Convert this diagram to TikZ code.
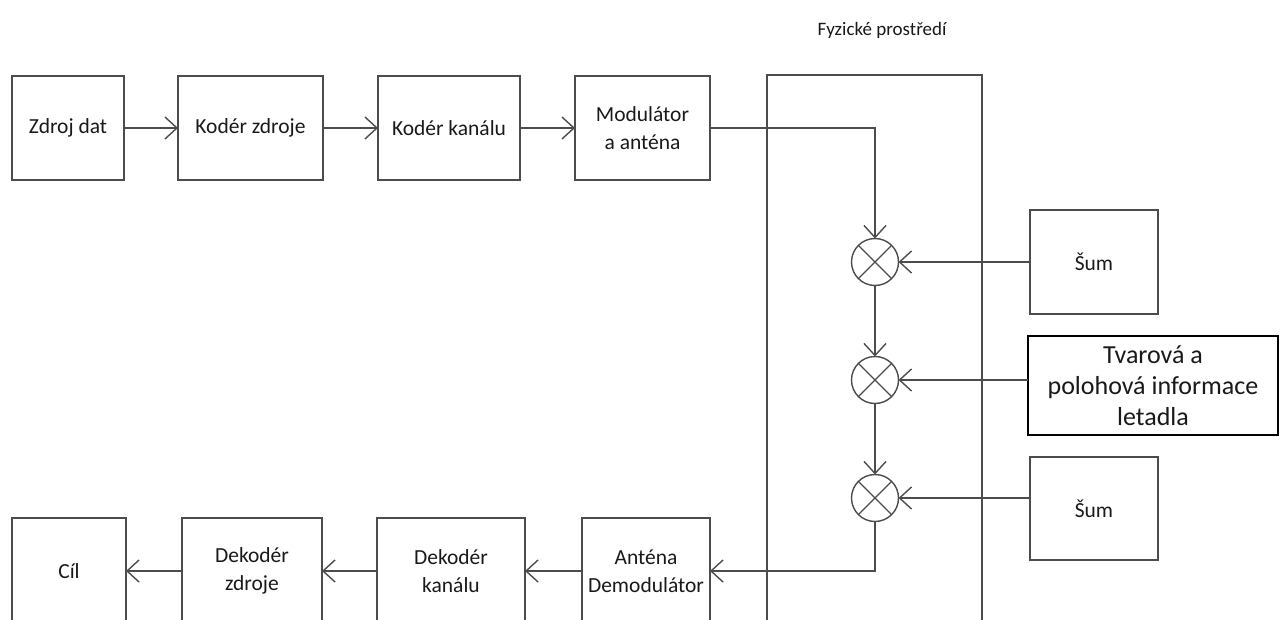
\documentclass[tikz,border=0pt]{standalone}
\usepackage{fontspec}
\setmainfont{Carlito}
\usetikzlibrary{arrows.meta}
\tikzset{
  blok/.style={draw=black!70, line width=1.4pt, minimum height=104pt, inner sep=0pt, outer sep=0pt,
    align=center, text=black!90, font=\fontsize{21.5}{28}\selectfont},
  soucin/.style={circle, draw=black!70, line width=1.4pt, minimum size=47pt, inner sep=0pt, outer sep=0pt,
    path picture={\draw[black!70, line width=1.2pt]
      (path picture bounding box.north west) -- (path picture bounding box.south east)
      (path picture bounding box.north east) -- (path picture bounding box.south west);}},
  sipka/.style={draw=black!70, line width=1.4pt, -{Straight Barb[length=12pt,width=22pt,line width=1.4pt]}},
}
\newcommand{\blokfont}{\fontsize{26}{31}\selectfont}

\begin{document}
\begin{tikzpicture}[x=1pt, y=-1pt]
  \useasboundingbox (0,0) rectangle (1282,620);
  \clip (0,0) rectangle (1282,620);

  % fyzicke prostredi
  \node[blok, minimum width=215pt, minimum height=552pt, anchor=north west] (prostredi) at (767,75) {};
  \node[text=black!90, font=\fontsize{19}{23}\selectfont] (nadpis) at (882,30) {Fyzické prostředí};

  % vysilac
  \node[blok, minimum width=112pt] (zdroj) at (68,128) {Zdroj dat};
  \node[blok, minimum width=145pt] (koderZ) at (250.5,128) {Kodér zdroje};
  \node[blok, minimum width=142pt] (koderK) at (449,128) {Kodér kanálu};
  \node[blok, minimum width=135pt] (modul) at (642.5,128) {Modulátor\\a anténa};

  % prijimac
  \node[blok, minimum width=114pt, minimum height=106pt] (cil) at (69,571) {Cíl};
  \node[blok, minimum width=140pt, minimum height=106pt] (dekZ) at (252,571) {Dekodér\\zdroje};
  \node[blok, minimum width=148pt, minimum height=106pt] (dekK) at (451,571) {Dekodér\\kanálu};
  \node[blok, minimum width=128pt, minimum height=106pt] (antena) at (646,571) {Anténa\\Demodulátor};

  % kanal
  \node[soucin] (s1) at (875,262) {};
  \node[soucin] (s2) at (875,380) {};
  \node[soucin] (s3) at (875,498) {};
  \node[blok, minimum width=128pt] (sum1) at (1094,262) {Šum};
  \node[blok, draw=black, line width=2pt, minimum width=250pt, minimum height=99pt, font=\blokfont] (tvar) at (1153,385.5)
    {Tvarová a\\polohová informace\\letadla};
  \node[blok, minimum width=128pt, minimum height=103pt] (sum2) at (1094,508.5) {Šum};

  \draw[sipka] (zdroj) -- (koderZ);
  \draw[sipka] (koderZ) -- (koderK);
  \draw[sipka] (koderK) -- (modul);
  \draw[sipka] (modul.east) -| (s1);
  \draw[sipka] (s1) -- (s2);
  \draw[sipka] (s2) -- (s3);
  \draw[sipka] (sum1) -- (s1);
  \draw[sipka] (tvar.west |- s2) -- (s2);
  \draw[sipka] (sum2.west |- s3) -- (s3);
  \draw[sipka] (s3) |- (antena.east);
  \draw[sipka] (antena) -- (dekK);
  \draw[sipka] (dekK) -- (dekZ);
  \draw[sipka] (dekZ) -- (cil);

\end{tikzpicture}
\end{document}
